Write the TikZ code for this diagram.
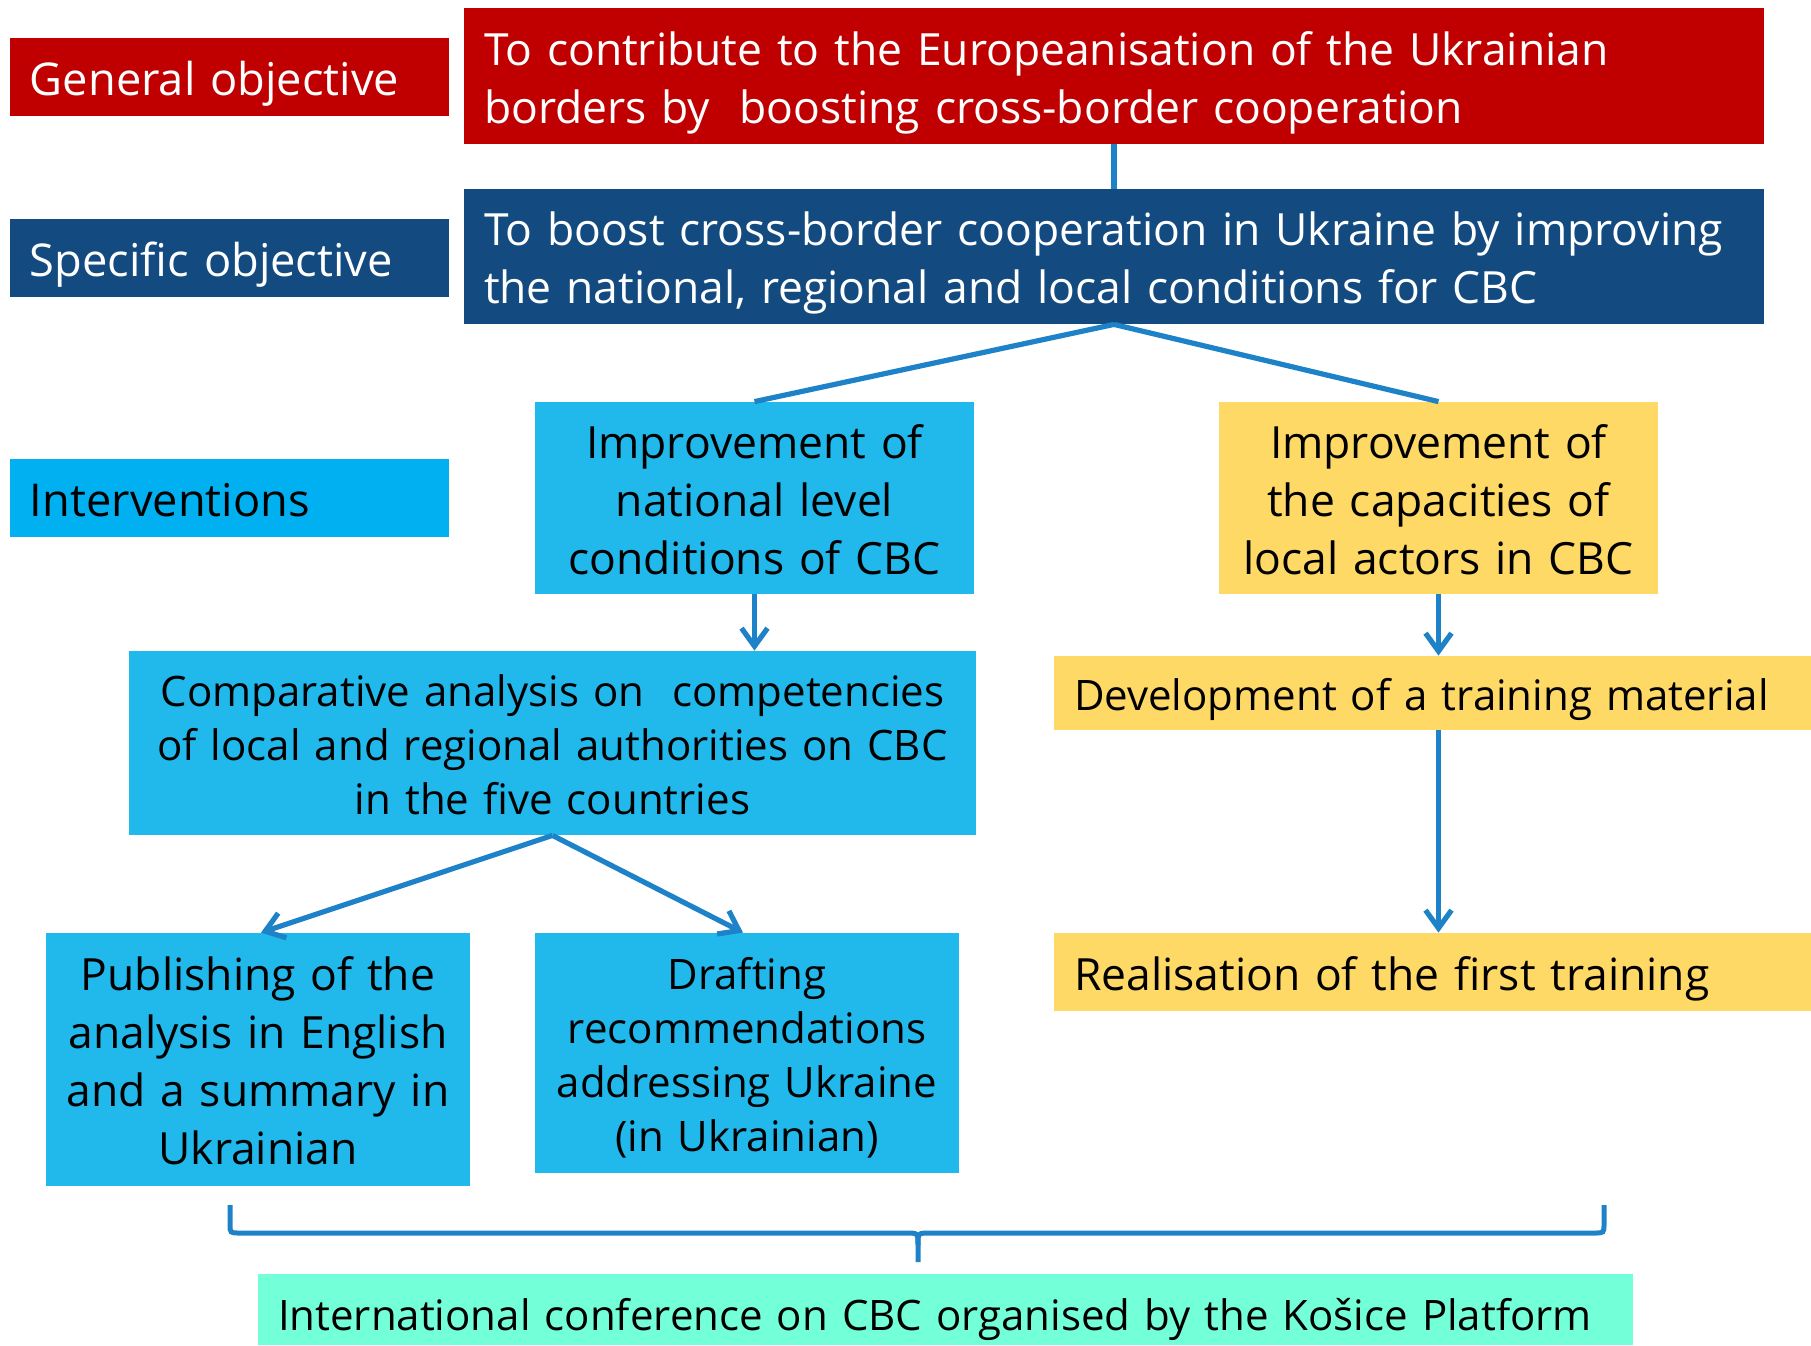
\documentclass[tikz,border=0pt]{standalone}
\usepackage{fontspec}
\setmainfont{Open Sans}
\usetikzlibrary{arrows.meta,calc}
\definecolor{cred}{HTML}{C00000}
\definecolor{cdark}{HTML}{134A80}
\definecolor{cint}{HTML}{00B0F0}
\definecolor{clb}{HTML}{21B8EC}
\definecolor{cyel}{HTML}{FFD966}
\definecolor{caqua}{HTML}{73FFD8}
\definecolor{cline}{HTML}{1E82C8}
\newcommand\topstr{\rule{0pt}{1.06em}}
\newcommand\topstrb{\rule{0pt}{1.25em}}
\newcommand\botstr{\rule[-0.24em]{0pt}{0.24em}}
\begin{document}
\begin{tikzpicture}[x=0.5pt,y=-0.5pt,
 box/.style={inner sep=0pt},
 fbig/.style={font=\fontsize{22.2}{29}\selectfont},
 flab/.style={font=\fontsize{22.6}{29}\selectfont},
 fsmall/.style={font=\fontsize{21}{27}\selectfont},
 lbox/.style={box, align=left, inner xsep=10pt},
 cbox/.style={box, align=center},
 conn/.style={draw=cline, line width=2.6pt},
 arr/.style={conn, -{Straight Barb[length=9pt,width=13pt]}},
]
\useasboundingbox (0,0) rectangle (1811,1345);
% labels
\node[lbox, flab, fill=cred, text=white, text width=199.5pt, minimum height=39pt] (glab) at (229.5,77) {\topstr General objective\botstr};
\node[lbox, flab, fill=cdark, text=white, text width=199.5pt, minimum height=39pt] (slab) at (229.5,258) {\topstr Specific objective\botstr};
\node[lbox, flab, fill=cint, text=black, text width=199.5pt, minimum height=39pt] (ilab) at (229.5,498) {\topstr Interventions\botstr};
% objectives
\node[lbox, fbig, fill=cred, text=white, text width=630pt, minimum height=68pt] (gen) at (1114,76) {\topstr To contribute to the Europeanisation of the Ukrainian\\borders by~ boosting cross-border cooperation\botstr};
\node[lbox, fbig, fill=cdark, text=white, text width=630pt, minimum height=67.5pt] (spec) at (1114,256.5) {\topstr To boost cross-border cooperation in Ukraine by improving\\the national, regional and local conditions for CBC\botstr};
% interventions
\node[cbox, fbig, fill=clb, text width=219.5pt, minimum height=96pt] (nat) at (754.5,498) {\topstr Improvement of\\national level\\conditions of CBC\botstr};
\node[cbox, fbig, fill=cyel, text width=219.5pt, minimum height=96pt] (loc) at (1438.5,498) {\topstr Improvement of\\the capacities of\\local actors in CBC\botstr};
\node[cbox, fsmall, fill=clb, text width=423.5pt, minimum height=92pt] (comp) at (552.5,743) {\topstr Comparative analysis on~ competencies\\of local and regional authorities on CBC\\in the five countries\botstr};
\node[lbox, fsmall, fill=cyel, text width=358.5pt, minimum height=37pt] (dev) at (1432.5,693) {\topstr Development of a training material\botstr};
\node[cbox, fbig, fill=clb, text width=212pt, minimum height=126.5pt] (pub) at (258,1059.5) {\topstr Publishing of the\\analysis in English\\and a summary in\\Ukrainian\botstr};
\node[cbox, fsmall, fill=clb, text width=212pt, minimum height=120pt] (draft) at (747,1053) {\topstr Drafting\\recommendations\\addressing Ukraine\\(in Ukrainian)\botstr};
\node[lbox, fbig, fill=cyel, text width=358.5pt, minimum height=39pt] (real) at (1432.5,972) {\topstr Realisation of the first training\botstr};
\node[lbox, fsmall, fill=caqua, text width=667.5pt, minimum height=35.5pt] (conf) at (945.5,1309.5) {\topstrb International conference on CBC organised by the Košice Platform\botstr};
% connectors
\draw[conn] (gen.south) -- (spec.north);
\draw[conn] (spec.south) -- (nat.north);
\draw[conn] (spec.south) -- (loc.north);
\draw[arr] (nat.south) -- (nat.south |- comp.north);
\draw[arr] (loc.south) -- (loc.south |- dev.north);
\draw[arr] (dev.south -| loc.south) -- (real.north -| loc.south);
\draw[arr] (comp.south) -- ($(pub.north)+(3,0)$);
\draw[arr] (comp.south) -- ($(draft.north)+(-4,0)$);
% brace
\coordinate (bl) at (230,1205);
\coordinate (br) at (1604,1205);
\coordinate (bm) at (918,1262);
\draw[conn, line width=2.5pt] (bl) -- (230,1224) .. controls (230,1233) .. (240,1233) -- (906,1233) .. controls (918,1233) .. (918,1245) -- (bm);
\draw[conn, line width=2.5pt] (br) -- (1604,1224) .. controls (1604,1233) .. (1594,1233) -- (930,1233) .. controls (918,1233) .. (918,1245);
\end{tikzpicture}
\end{document}
